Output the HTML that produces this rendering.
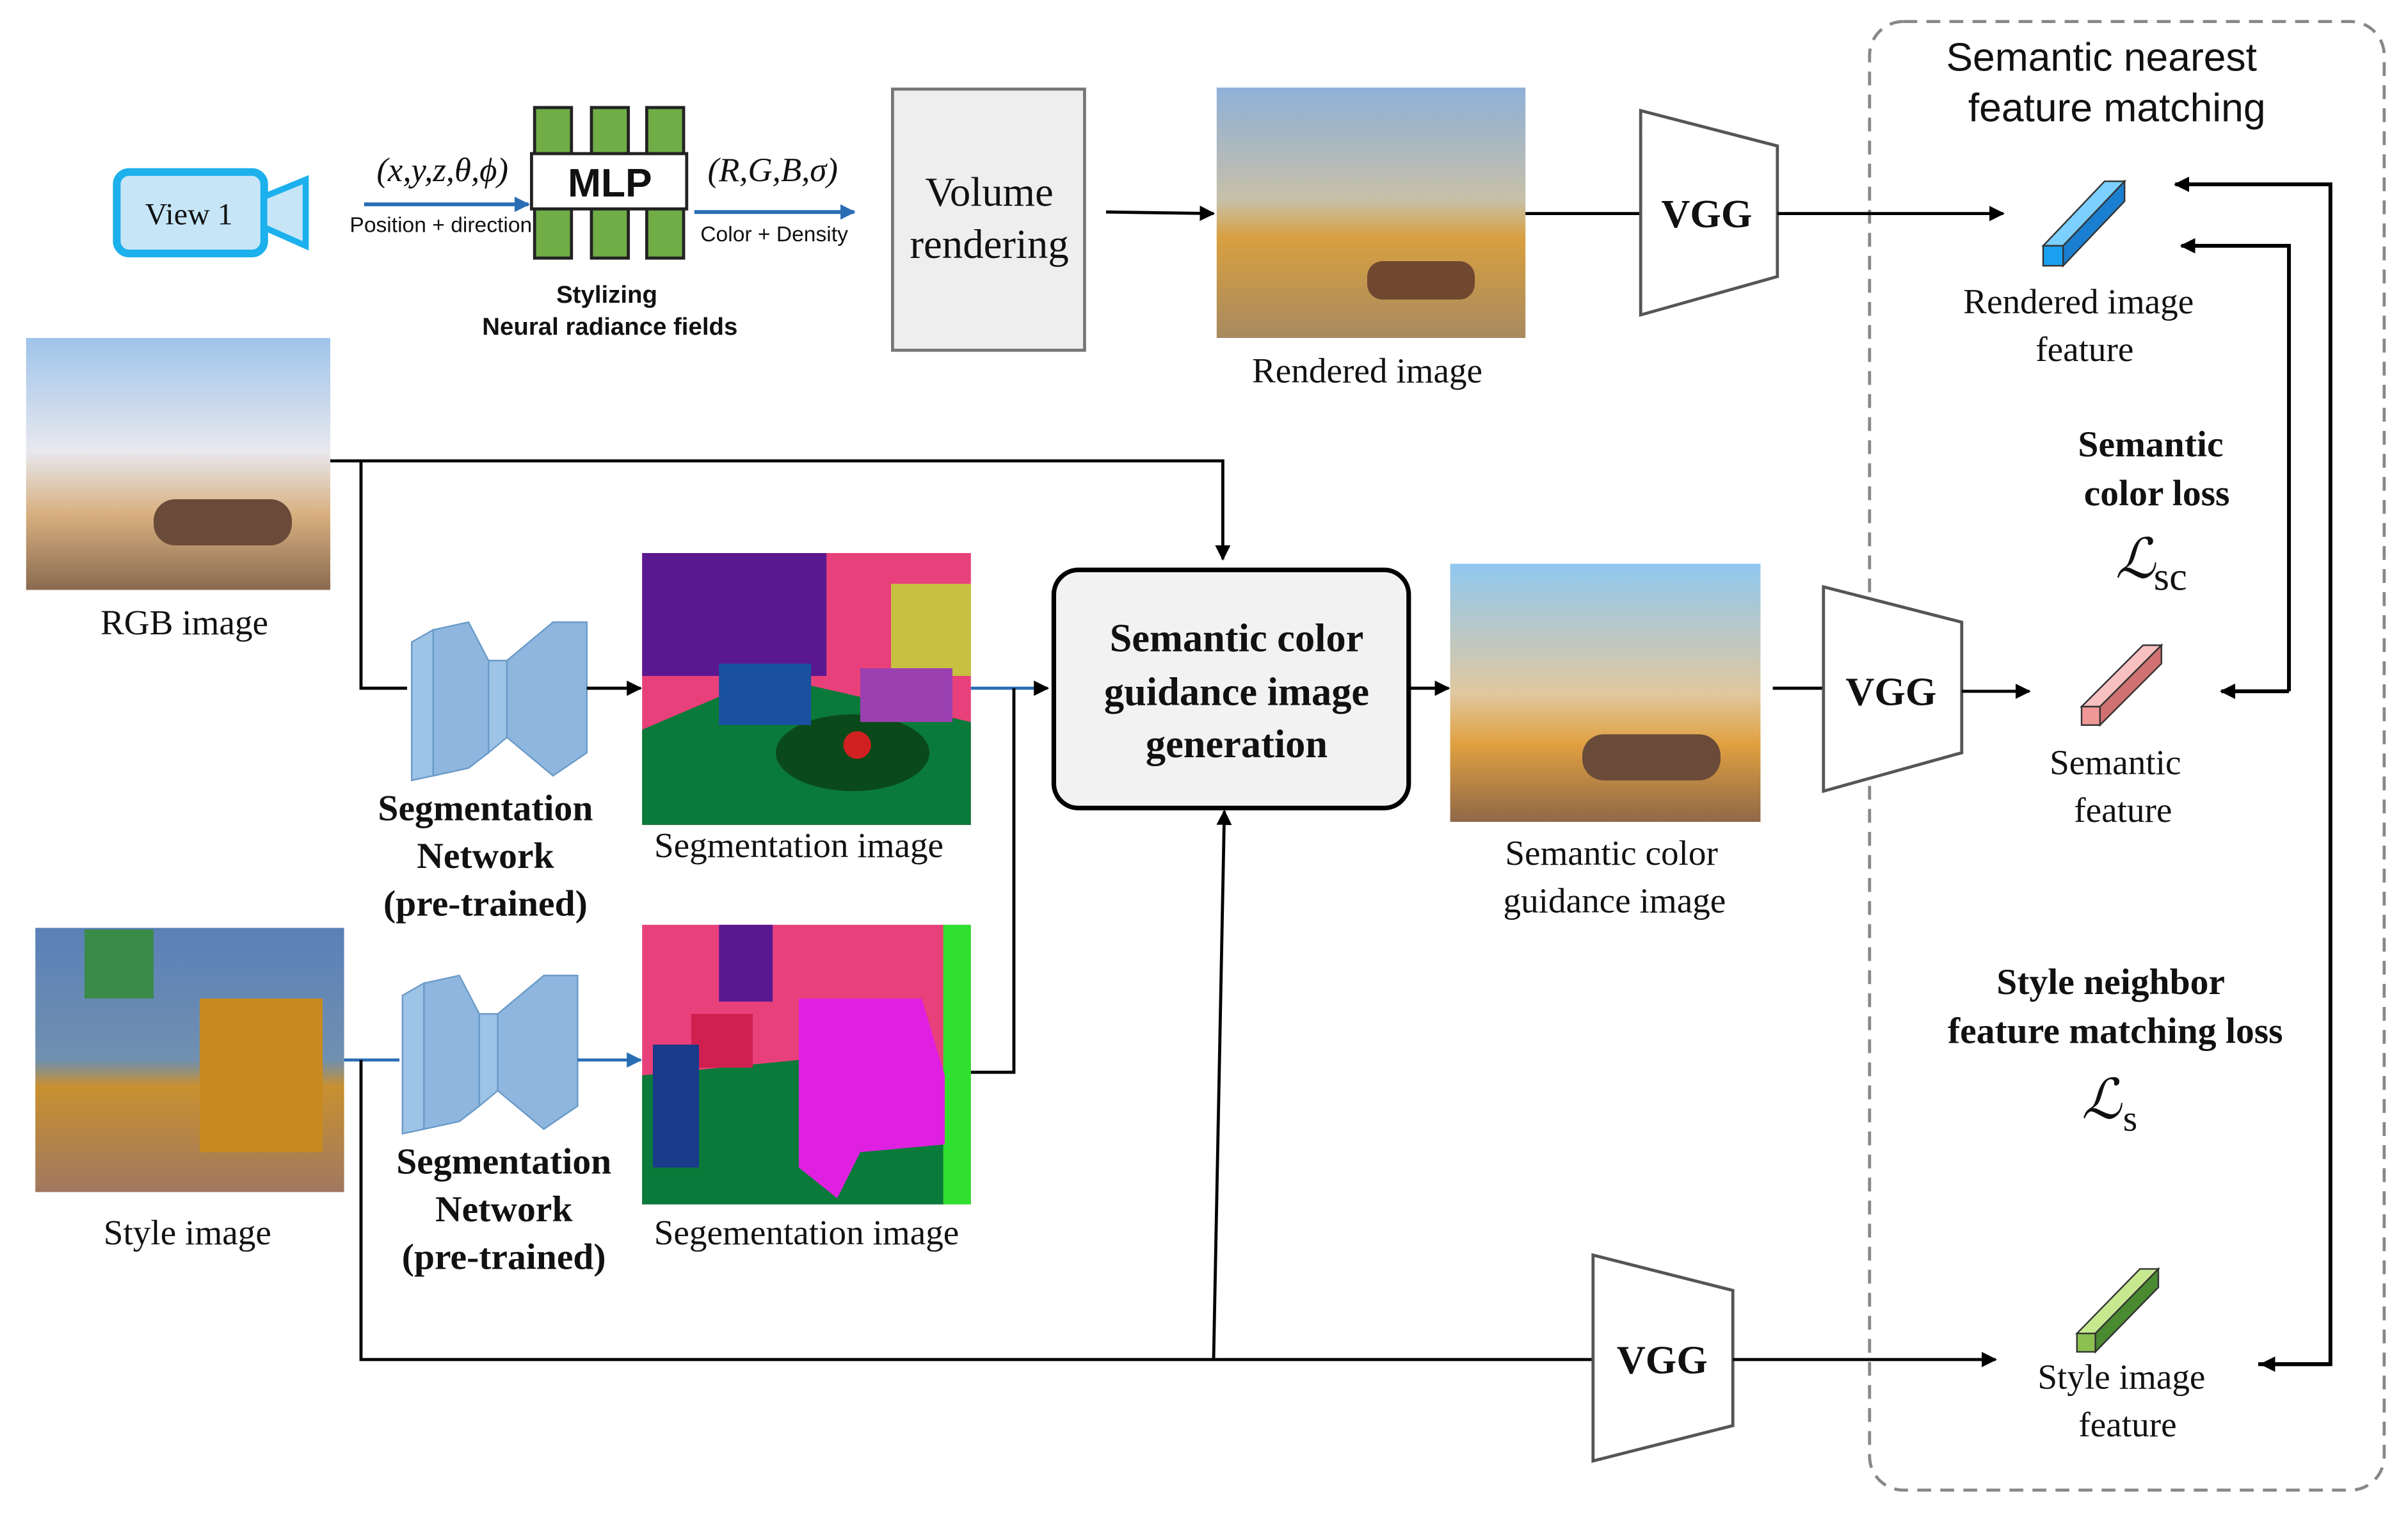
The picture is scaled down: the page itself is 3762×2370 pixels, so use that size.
<!DOCTYPE html>
<html><head><meta charset="utf-8"><style>
html,body{margin:0;padding:0;background:#fff;}
svg{display:block;}
.s{font-family:"Liberation Serif",serif;fill:#111;}
.a{font-family:"Liberation Sans",sans-serif;fill:#111;}
.b{font-weight:bold;}
</style></head><body>
<svg width="3762" height="2370" viewBox="0 0 1567.5 987.5" xmlns="http://www.w3.org/2000/svg">
<defs>
<marker id="ar" markerWidth="10" markerHeight="10" refX="9" refY="5" orient="auto" markerUnits="userSpaceOnUse"><path d="M0,0 L10,5 L0,10 z" fill="#000"/></marker>
<marker id="ab" markerWidth="10" markerHeight="10" refX="9" refY="5" orient="auto" markerUnits="userSpaceOnUse"><path d="M0,0 L10,5 L0,10 z" fill="#2a6db5"/></marker>
<linearGradient id="room1" x1="0" y1="0" x2="0" y2="1"><stop offset="0" stop-color="#8fb0d8"/><stop offset="0.45" stop-color="#c7c0a8"/><stop offset="0.6" stop-color="#d8a040"/><stop offset="1" stop-color="#a88a60"/></linearGradient>
<linearGradient id="room2" x1="0" y1="0" x2="0" y2="1"><stop offset="0" stop-color="#9fc4ea"/><stop offset="0.45" stop-color="#e8e8ee"/><stop offset="0.7" stop-color="#d8b080"/><stop offset="1" stop-color="#8a6a50"/></linearGradient>
<linearGradient id="room3" x1="0" y1="0" x2="0" y2="1"><stop offset="0" stop-color="#8fc8f0"/><stop offset="0.5" stop-color="#e0c8a0"/><stop offset="0.7" stop-color="#e0a040"/><stop offset="1" stop-color="#906848"/></linearGradient>
<linearGradient id="style" x1="0" y1="0" x2="0" y2="1"><stop offset="0" stop-color="#5a80b8"/><stop offset="0.5" stop-color="#7090b0"/><stop offset="0.6" stop-color="#c89030"/><stop offset="1" stop-color="#a07860"/></linearGradient>
</defs>

<rect x="1217" y="14" width="335" height="956" rx="22" fill="none" stroke="#888" stroke-width="2" stroke-dasharray="9,6"/>
<text class="a" x="1368" y="46" font-size="26" text-anchor="middle">Semantic nearest</text>
<text class="a" x="1378" y="79" font-size="26" text-anchor="middle">feature matching</text>

<rect x="76" y="112" width="96" height="53" rx="8" fill="#c6e6f8" stroke="#1cb0ec" stroke-width="5"/>
<text class="s" x="123" y="146" font-size="20" text-anchor="middle">View 1</text>
<path d="M172,128 L199,117 L199,160 L172,148 z" fill="#c6e6f8" stroke="#1cb0ec" stroke-width="4"/>

<g fill="#70ad47" stroke="#222" stroke-width="2">
<rect x="348" y="70" width="24" height="98"/><rect x="385" y="70" width="24" height="98"/><rect x="421" y="70" width="24" height="98"/>
</g>
<rect x="346" y="100" width="101" height="36" fill="#fff" stroke="#222" stroke-width="2"/>
<text class="a b" x="397" y="128" font-size="26" text-anchor="middle">MLP</text>
<text class="s" x="288" y="118" font-size="22" font-style="italic" text-anchor="middle">(x,y,z,θ,ϕ)</text>
<line x1="237" y1="133" x2="344" y2="133" stroke="#2a6db5" stroke-width="2.5" marker-end="url(#ab)"/>
<text class="a" x="287" y="151" font-size="14" text-anchor="middle">Position + direction</text>
<text class="s" x="503" y="118" font-size="22" font-style="italic" text-anchor="middle">(R,G,B,σ)</text>
<line x1="452" y1="138" x2="556" y2="138" stroke="#2a6db5" stroke-width="2.5" marker-end="url(#ab)"/>
<text class="a" x="504" y="157" font-size="14" text-anchor="middle">Color + Density</text>
<text class="a b" x="395" y="197" font-size="16" text-anchor="middle">Stylizing</text>
<text class="a b" x="397" y="218" font-size="16" text-anchor="middle">Neural radiance fields</text>

<rect x="581" y="58" width="125" height="170" fill="#eeeeee" stroke="#777" stroke-width="2"/>
<text class="s" x="644" y="134" font-size="27" text-anchor="middle">Volume</text>
<text class="s" x="644" y="168" font-size="27" text-anchor="middle">rendering</text>
<line x1="720" y1="138" x2="790" y2="139" stroke="#000" stroke-width="2" marker-end="url(#ar)"/>

<rect x="792" y="57" width="201" height="163" fill="url(#room1)"/>
<rect x="890" y="170" width="70" height="25" rx="10" fill="#704830"/>
<text class="s" x="890" y="249" font-size="23" text-anchor="middle">Rendered image</text>
<line x1="993" y1="139" x2="1068" y2="139" stroke="#000" stroke-width="2"/>
<path d="M1068,72 L1157,95 L1157,180 L1068,205 z" fill="#fff" stroke="#555" stroke-width="2"/>
<text class="s b" x="1111" y="148" font-size="26" text-anchor="middle">VGG</text>
<line x1="1157" y1="139" x2="1304" y2="139" stroke="#000" stroke-width="2" marker-end="url(#ar)"/>

<g stroke="#333" stroke-width="1">
<path d="M1330,160 L1370,118 L1383,118 L1343,160 z" fill="#7cd0ff"/>
<path d="M1343,160 L1383,118 L1383,131 L1343,173 z" fill="#1a7fd0"/>
<rect x="1330" y="160" width="13" height="13" fill="#1aa0f0"/>
<path d="M1355,460 L1395,420 L1407,420 L1367,460 z" fill="#f8c0c0"/>
<path d="M1367,460 L1407,420 L1407,432 L1367,472 z" fill="#d07070"/>
<rect x="1355" y="460" width="12" height="12" fill="#f09898"/>
<path d="M1352,868 L1393,826 L1405,826 L1364,868 z" fill="#c8e890"/>
<path d="M1364,868 L1405,826 L1405,838 L1364,880 z" fill="#4a8a30"/>
<rect x="1352" y="868" width="12" height="12" fill="#8cc050"/>
</g>
<text class="s" x="1353" y="204" font-size="23" text-anchor="middle">Rendered image</text>
<text class="s" x="1357" y="235" font-size="23" text-anchor="middle">feature</text>
<text class="s b" x="1400" y="297" font-size="24" text-anchor="middle">Semantic</text>
<text class="s b" x="1404" y="329" font-size="24" text-anchor="middle">color loss</text>
<text class="s" x="1390" y="376" font-size="36" font-style="italic" text-anchor="middle">ℒ</text><text class="s" x="1402" y="384" font-size="26">sc</text>
<text class="s" x="1377" y="504" font-size="23" text-anchor="middle">Semantic</text>
<text class="s" x="1382" y="535" font-size="23" text-anchor="middle">feature</text>
<text class="s b" x="1374" y="647" font-size="24" text-anchor="middle">Style neighbor</text>
<text class="s b" x="1377" y="679" font-size="24" text-anchor="middle">feature matching loss</text>
<text class="s" x="1368" y="728" font-size="36" font-style="italic" text-anchor="middle">ℒ</text><text class="s" x="1382" y="736" font-size="24">s</text>
<text class="s" x="1381" y="904" font-size="23" text-anchor="middle">Style image</text>
<text class="s" x="1385" y="935" font-size="23" text-anchor="middle">feature</text>

<polyline points="1470,888 1517,888 1517,120 1416,120" fill="none" stroke="#000" stroke-width="2.5" marker-end="url(#ar)"/>
<line x1="1517" y1="888" x2="1472" y2="888" stroke="#000" stroke-width="2.5" marker-end="url(#ar)"/>
<polyline points="1490,450 1490,160 1420,160" fill="none" stroke="#000" stroke-width="2.5" marker-end="url(#ar)"/>
<line x1="1490" y1="450" x2="1446" y2="450" stroke="#000" stroke-width="2.5" marker-end="url(#ar)"/>

<rect x="17" y="220" width="198" height="164" fill="url(#room2)"/>
<rect x="100" y="325" width="90" height="30" rx="14" fill="#6a4a38"/>
<text class="s" x="120" y="413" font-size="23" text-anchor="middle">RGB image</text>
<polyline points="215,300 796,300 796,364" fill="none" stroke="#000" stroke-width="2" marker-end="url(#ar)"/>
<polyline points="235,300 235,448 265,448" fill="none" stroke="#000" stroke-width="2"/>

<g fill="#9dc3e6" stroke="#6a9ac8" stroke-width="1">
<path d="M268,418 L282,410 L282,505 L268,508 z"/>
<path d="M282,410 L305,405 L318,430 L318,490 L305,500 L282,505 z" fill="#8eb6de"/>
<path d="M318,430 L330,430 L330,480 L318,490 z"/>
<path d="M330,430 L360,405 L382,405 L382,490 L360,505 L330,480 z" fill="#8eb6de"/>
</g>
<line x1="382" y1="448" x2="417" y2="448" stroke="#000" stroke-width="2" marker-end="url(#ar)"/>
<text class="s b" x="316" y="534" font-size="24" text-anchor="middle">Segmentation</text>
<text class="s b" x="316" y="565" font-size="24" text-anchor="middle">Network</text>
<text class="s b" x="316" y="596" font-size="24" text-anchor="middle">(pre-trained)</text>

<rect x="418" y="360" width="214" height="177" fill="#e8407a"/>
<rect x="418" y="360" width="120" height="80" fill="#5a1890"/>
<rect x="580" y="380" width="52" height="60" fill="#c8c040"/>
<path d="M418,475 L500,440 L632,470 L632,537 L418,537 z" fill="#0a7a3a"/>
<ellipse cx="555" cy="490" rx="50" ry="25" fill="#0a4a1a"/>
<rect x="468" y="432" width="60" height="40" fill="#1a50a0"/>
<rect x="560" y="435" width="60" height="35" fill="#9a40b0"/>
<circle cx="558" cy="485" r="9" fill="#d02020"/>
<text class="s" x="520" y="558" font-size="23" text-anchor="middle">Segmentation image</text>
<line x1="632" y1="448" x2="682" y2="448" stroke="#2a6db5" stroke-width="2" marker-end="url(#ar)"/>
<polyline points="660,448 660,698 632,698" fill="none" stroke="#000" stroke-width="2"/>

<rect x="686" y="371" width="231" height="155" rx="16" fill="#f2f2f2" stroke="#000" stroke-width="3"/>
<text class="s b" x="805" y="424" font-size="26" text-anchor="middle">Semantic color</text>
<text class="s b" x="805" y="459" font-size="26" text-anchor="middle">guidance image</text>
<text class="s b" x="805" y="493" font-size="26" text-anchor="middle">generation</text>
<line x1="917" y1="448" x2="943" y2="448" stroke="#000" stroke-width="2" marker-end="url(#ar)"/>

<rect x="944" y="367" width="202" height="168" fill="url(#room3)"/>
<rect x="1030" y="478" width="90" height="30" rx="14" fill="#6a4a38"/>
<text class="s" x="1049" y="563" font-size="23" text-anchor="middle">Semantic color</text>
<text class="s" x="1051" y="594" font-size="23" text-anchor="middle">guidance image</text>
<line x1="1154" y1="448" x2="1187" y2="448" stroke="#000" stroke-width="2"/>
<path d="M1187,382 L1277,405 L1277,490 L1187,515 z" fill="#fff" stroke="#555" stroke-width="2"/>
<text class="s b" x="1231" y="459" font-size="26" text-anchor="middle">VGG</text>
<line x1="1277" y1="450" x2="1321" y2="450" stroke="#000" stroke-width="2" marker-end="url(#ar)"/>

<rect x="23" y="604" width="201" height="172" fill="url(#style)"/>
<rect x="130" y="650" width="80" height="100" fill="#c88a20"/>
<rect x="55" y="605" width="45" height="45" fill="#3a8a4a"/>
<text class="s" x="122" y="810" font-size="23" text-anchor="middle">Style image</text>
<line x1="224" y1="690" x2="260" y2="690" stroke="#2a6db5" stroke-width="2"/>

<g fill="#9dc3e6" stroke="#6a9ac8" stroke-width="1">
<path d="M262,648 L276,640 L276,735 L262,738 z"/>
<path d="M276,640 L299,635 L312,660 L312,720 L299,730 L276,735 z" fill="#8eb6de"/>
<path d="M312,660 L324,660 L324,710 L312,720 z"/>
<path d="M324,660 L354,635 L376,635 L376,720 L354,735 L324,710 z" fill="#8eb6de"/>
</g>
<line x1="376" y1="690" x2="417" y2="690" stroke="#2a6db5" stroke-width="2" marker-end="url(#ab)"/>
<text class="s b" x="328" y="764" font-size="24" text-anchor="middle">Segmentation</text>
<text class="s b" x="328" y="795" font-size="24" text-anchor="middle">Network</text>
<text class="s b" x="328" y="826" font-size="24" text-anchor="middle">(pre-trained)</text>

<rect x="418" y="602" width="214" height="182" fill="#e8407a"/>
<rect x="468" y="602" width="35" height="50" fill="#5a1890"/>
<rect x="614" y="602" width="18" height="182" fill="#30e030"/>
<path d="M418,700 L520,690 L614,720 L614,784 L418,784 z" fill="#0a7a3a"/>
<path d="M520,650 L600,650 L615,700 L615,745 L560,750 L545,780 L520,760 z" fill="#e020e0"/>
<rect x="450" y="660" width="40" height="35" fill="#d02050"/>
<rect x="425" y="680" width="30" height="80" fill="#1a3a8a"/>
<text class="s" x="525" y="810" font-size="23" text-anchor="middle">Segementation image</text>

<polyline points="235,690 235,885 1037,885" fill="none" stroke="#000" stroke-width="2"/>
<line x1="790" y1="885" x2="797" y2="528" stroke="#000" stroke-width="2" marker-end="url(#ar)"/>
<path d="M1037,817 L1128,840 L1128,928 L1037,951 z" fill="#fff" stroke="#555" stroke-width="2"/>
<text class="s b" x="1082" y="894" font-size="26" text-anchor="middle">VGG</text>
<line x1="1128" y1="885" x2="1299" y2="885" stroke="#000" stroke-width="2" marker-end="url(#ar)"/>
</svg>
</body></html>
